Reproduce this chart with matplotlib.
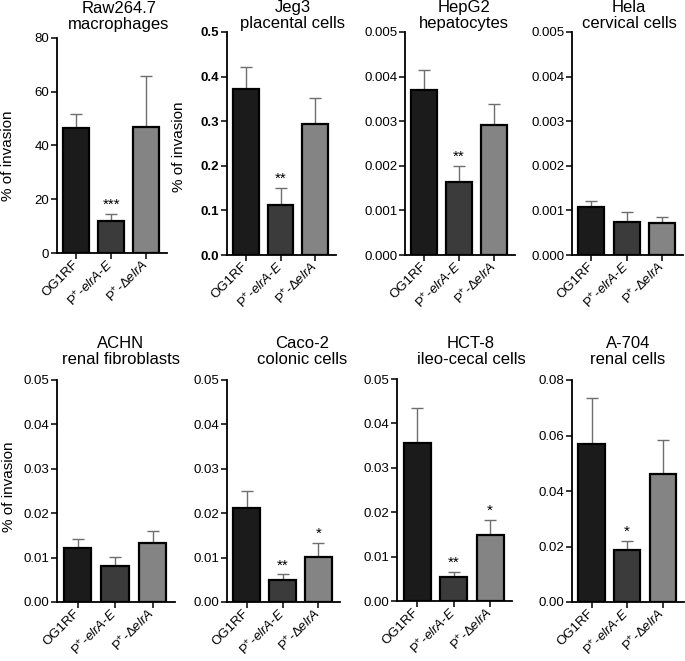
import numpy as np
import matplotlib
matplotlib.use("Agg")
import matplotlib.pyplot as plt
from matplotlib.ticker import FormatStrFormatter

plt.rcParams['font.family'] = ['Liberation Sans', 'DejaVu Sans']
plt.rcParams['mathtext.fontset'] = 'custom'
plt.rcParams['mathtext.rm'] = 'Liberation Sans'
plt.rcParams['mathtext.it'] = 'Liberation Sans:italic'
plt.rcParams['mathtext.bf'] = 'Liberation Sans:bold'

# data
strains = ['OG1RF', r'P$^{+}$-$\mathit{elrA}$-$\mathit{E}$', r'P$^{+}$-Δ$\mathit{elrA}$']
titles = ['Raw264.7\nmacrophages', 'Jeg3\nplacental cells', 'HepG2\nhepatocytes',
          'Hela\ncervical cells', 'ACHN\nrenal fibroblasts', 'Caco-2\ncolonic cells',
          'HCT-8\nileo-cecal cells', 'A-704\nrenal cells']
means = [
    [46.6, 12.0, 46.9],
    [0.372, 0.113, 0.293],
    [0.00369, 0.00163, 0.00291],
    [0.00107, 0.00073, 0.00072],
    [0.0122, 0.0080, 0.0132],
    [0.0212, 0.0049, 0.0101],
    [0.0355, 0.0055, 0.0148],
    [0.0571, 0.0189, 0.0461],
]
errs = [
    [5.0, 2.4, 18.8],
    [0.050, 0.038, 0.060],
    [0.00046, 0.00037, 0.00048],
    [0.00015, 0.00023, 0.00013],
    [0.0019, 0.0022, 0.0027],
    [0.0037, 0.0013, 0.0032],
    [0.0079, 0.0010, 0.0034],
    [0.0163, 0.0031, 0.0121],
]
stars = [
    ['', '***', ''],
    ['', '**', ''],
    ['', '**', ''],
    ['', '', ''],
    ['', '', ''],
    ['', '**', '*'],
    ['', '**', '*'],
    ['', '*', ''],
]
ymax = [80, 0.5, 0.005, 0.005, 0.05, 0.05, 0.05, 0.08]
ystep = [20, 0.1, 0.001, 0.001, 0.01, 0.01, 0.01, 0.02]
yfmt = ['%d', '%.1f', '%.3f', '%.3f', '%.2f', '%.2f', '%.2f', '%.2f']

bar_colors = ['#1b1b1b', '#3b3b3b', '#848484']

W, H = 685, 661
fig = plt.figure(figsize=(W / 100, H / 100), dpi=100)

# axes boxes in pixels: left, right, top, bottom
boxes = [
    (57, 167, 38, 253), (227, 336, 32, 255), (405, 515, 32, 255), (572, 683, 32, 255),
    (57, 175, 380, 602), (227, 340, 380, 602), (397, 512, 379, 601), (572, 684, 380, 602),
]
title_x = [119, 293, 464, 629, 121, 302, 471, 628]
title_base = [29, 28, 28, 28, 364, 364, 364, 364]
ylab_pos = {0: (8, 156), 1: (179, 147), 4: (9, 487)}

for i in range(8):
    l, r, t, b = boxes[i]
    ax = fig.add_axes([l / W, 1 - b / H, (r - l) / W, (b - t) / H])
    x = np.arange(3)
    ax.errorbar(x, means[i], yerr=[np.zeros(3), errs[i]], fmt='none',
                ecolor='#6e6e6e', elinewidth=1.0, capsize=4, capthick=1.0, zorder=1)
    ax.bar(x, means[i], width=0.74, color=bar_colors, edgecolor='black',
           linewidth=1.6, zorder=2)
    for j in range(3):
        if stars[i][j]:
            ax.annotate(stars[i][j], (j, means[i][j] + errs[i][j]), xytext=(0, 1.5),
                        textcoords='offset points', ha='center', va='bottom',
                        fontsize=11)
    ax.set_xlim(-0.55, 2.6)
    ax.set_ylim(0, ymax[i])
    ax.set_yticks(np.arange(0, ymax[i] + ystep[i] / 2, ystep[i]))
    ax.yaxis.set_major_formatter(FormatStrFormatter(yfmt[i]))
    ax.set_xticks(x)
    ax.set_xticklabels(strains, rotation=45, ha='right', va='center',
                       rotation_mode='anchor', fontsize=9.5)
    for s in ['top', 'right']:
        ax.spines[s].set_visible(False)
    for s in ['left', 'bottom']:
        ax.spines[s].set_linewidth(1.3)
    ax.tick_params(axis='both', direction='out', length=4, width=1.1,
                   labelsize=9.5, pad=1.5)
    ax.tick_params(axis='x', pad=3, labelsize=9.5)
    if i == 1:
        for lab in ax.get_yticklabels():
            lab.set_fontweight('bold')
    if i in ylab_pos:
        px, py = ylab_pos[i]
        fig.text(px / W, 1 - py / H, '% of invasion', rotation=90, ha='center',
                 va='center', fontsize=11)
    fig.text(title_x[i] / W, 1 - title_base[i] / H, titles[i], ha='center',
             va='baseline', fontsize=12, linespacing=1.05)

fig.savefig('out.png', dpi=100)
